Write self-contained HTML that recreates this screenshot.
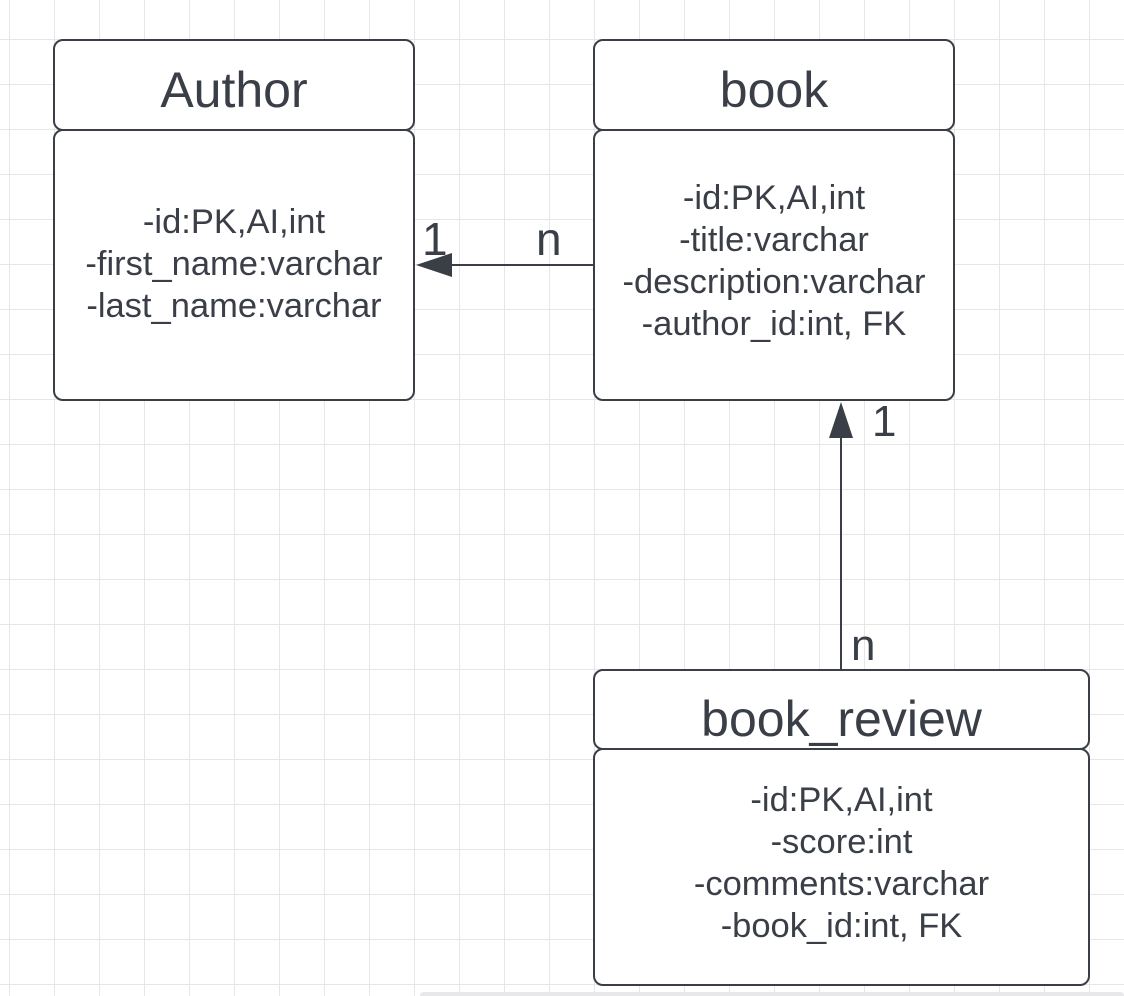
<!DOCTYPE html>
<html><head><style>
html,body{margin:0;padding:0}
body{width:1124px;height:996px;position:relative;overflow:hidden;background-color:#fff;
background-image:linear-gradient(#e6e6e6 1px,transparent 1px),linear-gradient(90deg,#e6e6e6 1px,transparent 1px);
background-size:45px 45px;background-position:9px 39px;font-family:"Liberation Sans",Arial,sans-serif;color:#3a3e47}
.b{position:absolute;box-sizing:border-box;border:2px solid #3a3e47;border-radius:10px;background:#fff;text-align:center}
.t{font-size:50px;display:flex;align-items:center;justify-content:center}
.c{font-size:34.5px;line-height:42px;display:flex;flex-direction:column;justify-content:center}
.l{position:absolute;font-size:44px;line-height:1}
</style></head><body>
<div class="b t" style="left:53px;top:39px;width:362px;height:92px;padding-top:10px">Author</div>
<div class="b c" style="left:53px;top:129px;width:362px;height:272px;padding-top:-2px;padding-bottom:2px">-id:PK,AI,int<br>-first_name:varchar<br>-last_name:varchar</div>
<div class="b t" style="left:593px;top:39px;width:362px;height:92px;padding-top:10px">book</div>
<div class="b c" style="left:593px;top:129px;width:362px;height:272px;padding-bottom:8px">-id:PK,AI,int<br>-title:varchar<br>-description:varchar<br>-author_id:int, FK</div>
<div class="b t" style="left:593px;top:669px;width:497px;height:81px;padding-top:18px">book_review</div>
<div class="b c" style="left:593px;top:748px;width:497px;height:238px;padding-bottom:8px">-id:PK,AI,int<br>-score:int<br>-comments:varchar<br>-book_id:int, FK</div>
<svg style="position:absolute;left:0;top:0" width="1124" height="996">
<line x1="594" y1="265" x2="440" y2="265" stroke="#3a3e47" stroke-width="2"/>
<polygon points="416,265 452,253 452,277" fill="#3a3e47"/>
<line x1="841" y1="670" x2="841" y2="430" stroke="#3a3e47" stroke-width="2"/>
<polygon points="841,402 829,438 853,438" fill="#3a3e47"/>
<rect x="420" y="992" width="704" height="6" rx="4" fill="#e8e8ea"/>
</svg>
<div class="l" style="left:422px;top:216px;font-size:46px">1</div>
<div class="l" style="left:536px;top:216px;font-size:46px">n</div>
<div class="l" style="left:872px;top:400px">1</div>
<div class="l" style="left:851px;top:624px">n</div>
</body></html>
